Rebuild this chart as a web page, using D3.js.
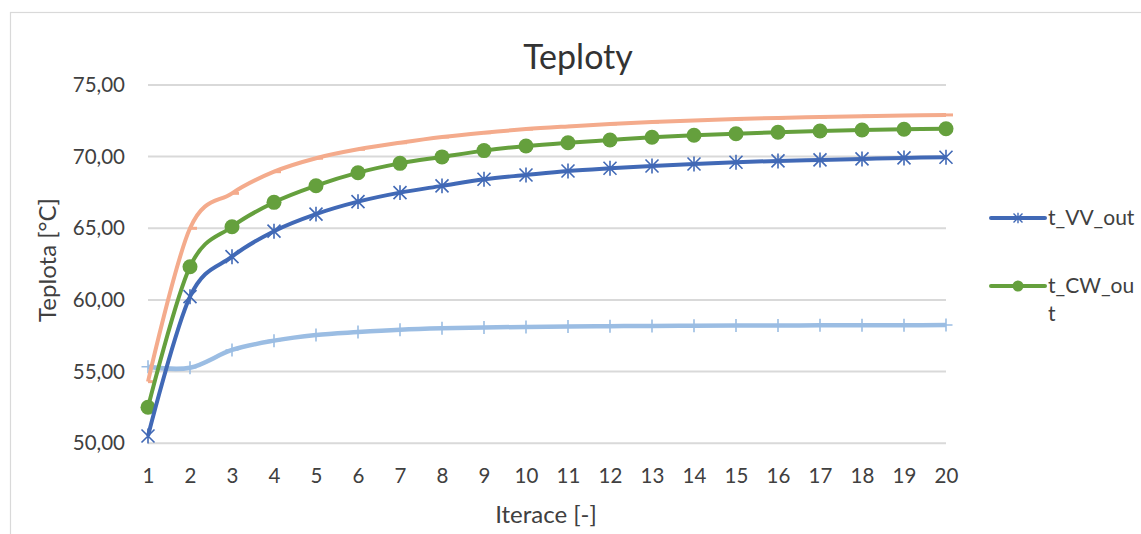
<!DOCTYPE html>
<html>
<head>
<meta charset="utf-8">
<script src="https://cdn.jsdelivr.net/npm/d3@7"></script>
<style>
  html, body { margin: 0; padding: 0; background: #ffffff; }
  svg { display: block; font-family: Lato, "Open Sans", sans-serif; }
</style>
</head>
<body>
<svg id="chart" width="1141" height="534"></svg>
<script>
// Iterations on the x axis
const iterations = [1, 2, 3, 4, 5, 6, 7, 8, 9, 10, 11, 12, 13, 14, 15, 16, 17, 18, 19, 20];

// Temperature series [°C]
const tVVout = [50.47, 60.19, 62.98, 64.76, 65.95, 66.82, 67.45, 67.92, 68.38, 68.68,
                68.96, 69.15, 69.31, 69.45, 69.57, 69.66, 69.73, 69.80, 69.87, 69.92];
const tCWout = [52.47, 62.28, 65.07, 66.77, 67.93, 68.84, 69.49, 69.94, 70.38, 70.70,
                70.93, 71.12, 71.31, 71.45, 71.56, 71.66, 71.75, 71.82, 71.87, 71.91];
const tSeries3 = [54.26, 64.96, 67.40, 68.91, 69.85, 70.47, 70.93, 71.33, 71.63, 71.88,
                  72.07, 72.24, 72.37, 72.48, 72.58, 72.66, 72.72, 72.78, 72.83, 72.87];
const tSeries4 = [55.30, 55.23, 56.47, 57.12, 57.52, 57.72, 57.88, 57.98, 58.04, 58.08,
                  58.11, 58.13, 58.15, 58.16, 58.17, 58.18, 58.19, 58.20, 58.20, 58.21];

// Axis ticks
const yTicks = [50, 55, 60, 65, 70, 75];
const xTicks = iterations;

// Labels
const chartTitle = "Teploty";
const xTitle = "Iterace [-]";
const yTitle = "Teplota [°C]";
const legendNames = ["t_VV_out", "t_CW_ou", "t"];

const svg = d3.select("#chart");

const x = d3.scaleLinear().domain([1, 20]).range([148, 946]);
const y = d3.scaleLinear().domain([50, 75]).range([442.7, 84.4]);

const textColor = "#404040";
const gridColor = "#d9d9d9";

// Chart frame
svg.append("rect")
  .attr("x", 10.5).attr("y", 12.5)
  .attr("width", 1200).attr("height", 600)
  .attr("fill", "none").attr("stroke", gridColor).attr("stroke-width", 1.2);

// Horizontal gridlines with value labels
svg.append("g")
  .attr("transform", `translate(${x.range()[0]},0)`)
  .call(d3.axisLeft(y).tickValues(yTicks).tickSize(-(x.range()[1] - x.range()[0]))
        .tickFormat(d => d3.format(".2f")(d).replace(".", ",")))
  .call(g => g.select(".domain").remove())
  .call(g => g.selectAll(".tick line").attr("stroke", gridColor).attr("stroke-width", 2))
  .call(g => g.selectAll(".tick text")
      .attr("x", -23).attr("dy", "0.35em")
      .attr("fill", textColor).attr("font-size", 20.5).attr("font-family", "Lato, sans-serif"));

// X axis labels
svg.append("g")
  .attr("transform", `translate(0,${y(50)})`)
  .call(d3.axisBottom(x).tickValues(xTicks).tickSize(0).tickFormat(d3.format("d")))
  .call(g => g.select(".domain").remove())
  .call(g => g.selectAll(".tick text")
      .attr("y", 33).attr("dy", "0.35em")
      .attr("fill", textColor).attr("font-size", 20.5).attr("font-family", "Lato, sans-serif"));

// Titles
svg.append("text").attr("x", 578).attr("y", 69).attr("text-anchor", "middle")
  .attr("font-size", 34).attr("fill", "#333333").text(chartTitle);
svg.append("text").attr("x", 546).attr("y", 523).attr("text-anchor", "middle")
  .attr("font-size", 24).attr("fill", textColor).text(xTitle);
svg.append("text").attr("transform", "translate(56,260) rotate(-90)").attr("text-anchor", "middle")
  .attr("font-size", 24).attr("fill", textColor).text(yTitle);

const line = d3.line()
  .x((d, i) => x(iterations[i]))
  .y(d => y(d))
  .curve(d3.curveCatmullRom.alpha(0));

const colBlue = "#4169b6";
const colGreen = "#65a03d";
const colOrange = "#f4ab8c";
const colLight = "#9bbde3";

// Light blue series with plus markers
svg.append("path").datum(tSeries4).attr("d", line)
  .attr("fill", "none").attr("stroke", colLight).attr("stroke-width", 4.5);
svg.append("g").selectAll("path").data(tSeries4).join("path")
  .attr("d", (d, i) => {
    const cx = x(iterations[i]), cy = y(d);
    return `M${cx},${cy - 6.5}V${cy + 6.5}M${cx - 6.5},${cy}H${cx + 6.5}`;
  })
  .attr("stroke", colLight).attr("stroke-width", 1.6).attr("fill", "none");

// Orange series with dash markers
svg.append("path").datum(tSeries3).attr("d", line)
  .attr("fill", "none").attr("stroke", colOrange).attr("stroke-width", 4);
svg.append("g").selectAll("path").data(tSeries3).join("path")
  .attr("d", (d, i) => {
    const cx = x(iterations[i]), cy = y(d);
    return `M${cx},${cy}H${cx + 7}`;
  })
  .attr("stroke", colOrange).attr("stroke-width", 3).attr("fill", "none");

// t_CW_out with circle markers
svg.append("path").datum(tCWout).attr("d", line)
  .attr("fill", "none").attr("stroke", colGreen).attr("stroke-width", 4);
svg.append("g").selectAll("circle").data(tCWout).join("circle")
  .attr("cx", (d, i) => x(iterations[i])).attr("cy", d => y(d))
  .attr("r", 7.5).attr("fill", colGreen);

// t_VV_out with star markers
const starPath = (cx, cy, r) =>
  `M${cx - r},${cy - r}L${cx + r},${cy + r}M${cx - r},${cy + r}L${cx + r},${cy - r}M${cx},${cy - r * 1.15}V${cy + r * 1.15}`;
svg.append("path").datum(tVVout).attr("d", line)
  .attr("fill", "none").attr("stroke", colBlue).attr("stroke-width", 4);
svg.append("g").selectAll("path").data(tVVout).join("path")
  .attr("d", (d, i) => starPath(x(iterations[i]), y(d), 6.5))
  .attr("stroke", colBlue).attr("stroke-width", 1.6).attr("fill", "none");

// Legend
const lg = svg.append("g");
lg.append("line").attr("x1", 991).attr("x2", 1045).attr("y1", 218).attr("y2", 218)
  .attr("stroke", colBlue).attr("stroke-width", 4).attr("stroke-linecap", "round");
lg.append("path").attr("d", starPath(1018, 218, 4.5))
  .attr("stroke", colBlue).attr("stroke-width", 1.4).attr("fill", "none");
lg.append("text").attr("x", 1048).attr("y", 225).attr("font-size", 21)
  .attr("fill", textColor).text(legendNames[0]);

lg.append("line").attr("x1", 991).attr("x2", 1045).attr("y1", 286).attr("y2", 286)
  .attr("stroke", colGreen).attr("stroke-width", 4).attr("stroke-linecap", "round");
lg.append("circle").attr("cx", 1018).attr("cy", 286).attr("r", 5.5).attr("fill", colGreen);
lg.append("text").attr("x", 1048).attr("y", 293).attr("font-size", 21)
  .attr("fill", textColor).text(legendNames[1]);
lg.append("text").attr("x", 1048).attr("y", 321).attr("font-size", 21)
  .attr("fill", textColor).text(legendNames[2]);
</script>
</body>
</html>
